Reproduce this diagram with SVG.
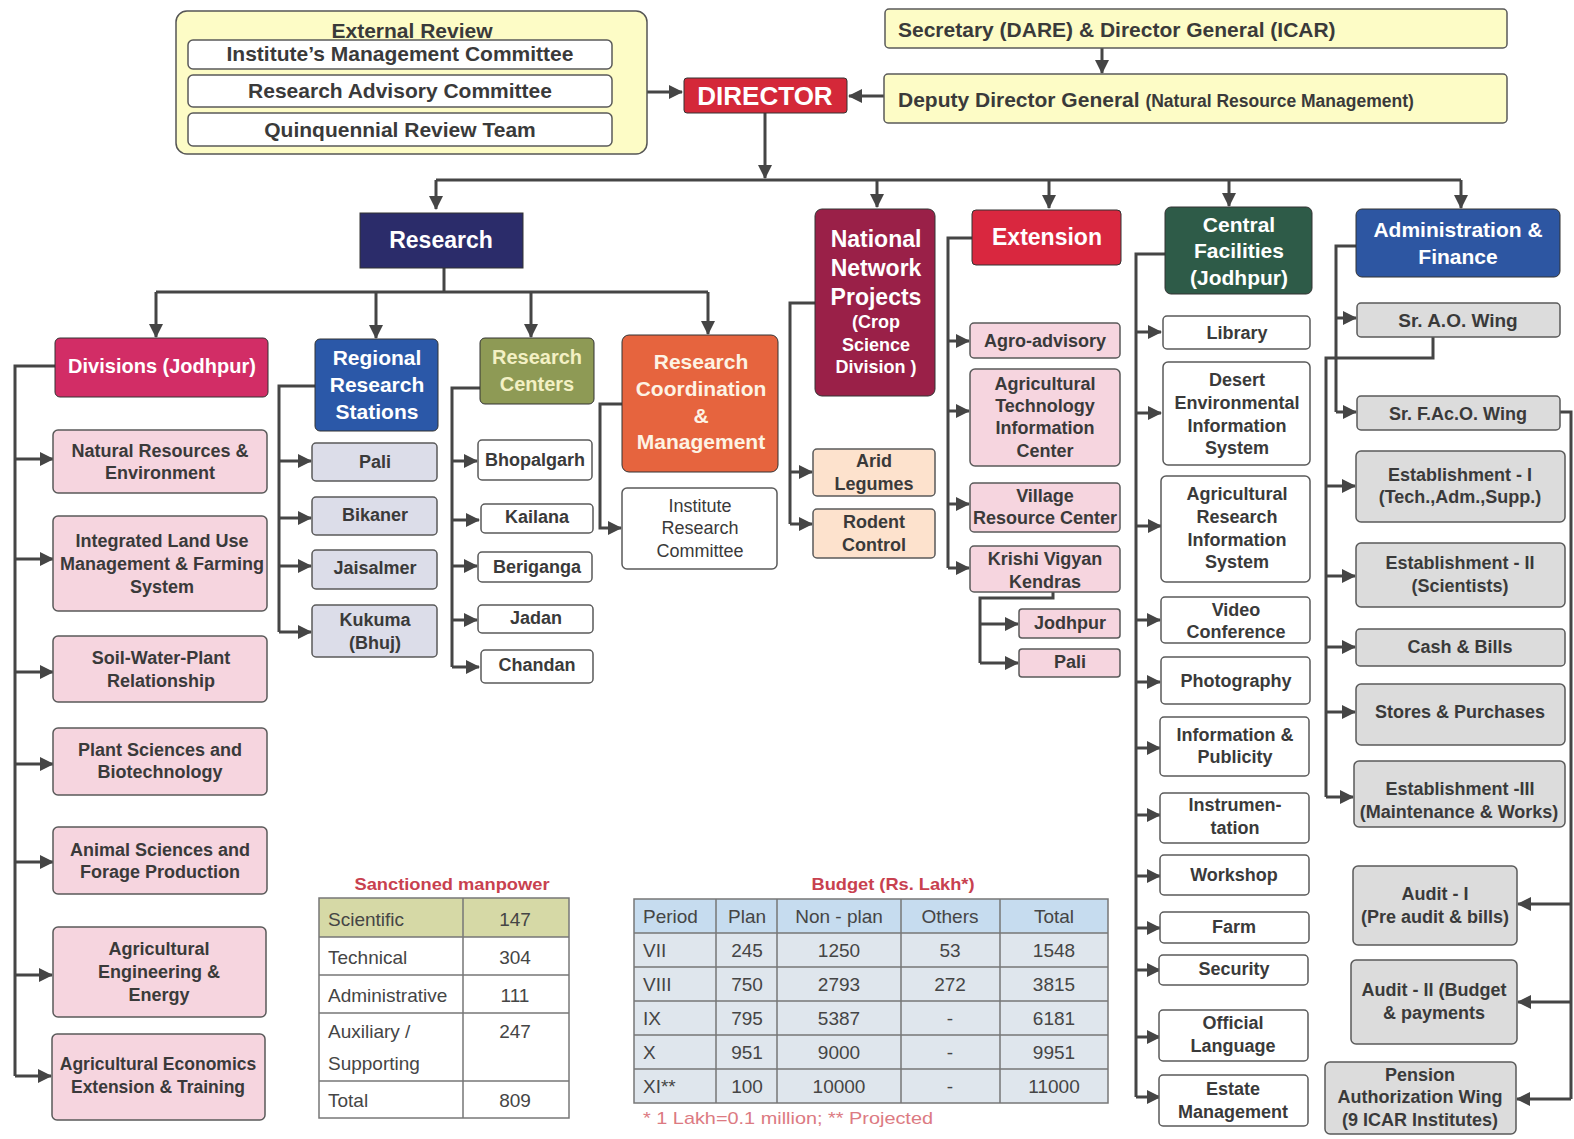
<svg xmlns="http://www.w3.org/2000/svg" width="1574" height="1139" viewBox="0 0 1574 1139">
<defs>
<marker id="ah" markerUnits="userSpaceOnUse" markerWidth="14" markerHeight="14" refX="13" refY="7" orient="auto"><path d="M0,0 L14,7 L0,14 z" fill="#454545"/></marker>
<style>
.c{fill:none;stroke:#454545;stroke-width:3}
.a{marker-end:url(#ah)}
.b{stroke:#5a5a5a;stroke-width:1.5}
.h{stroke:#333;stroke-width:1}
.pink{fill:#f6d5df}
.lav{fill:#dcdde9}
.wh{fill:#fff}
.peach{fill:#fde2cd}
.grey{fill:#dcdcdc}
.yel{fill:#fdfcc6}
text{font-family:"Liberation Sans",Arial,sans-serif;font-weight:bold;text-anchor:middle;fill:#3a3a3a;font-size:18px}
.w{fill:#fff;font-size:21px}
.big{font-size:23px}
.top{font-size:21px}
.l{text-anchor:start}
.n{font-weight:normal}
.tb{font-weight:normal;font-size:19px;fill:#454545}
.red{fill:#c8414f;font-size:17px}
</style>
</defs>
<rect width="1574" height="1139" fill="#fff"/>

<g id="connectors">
<path class="c" d="M612,53 H631 V130 H612"/>
<path class="c a" d="M612,92 H682"/>
<path class="c a" d="M1102,48 V73"/>
<path class="c a" d="M884,96 H849"/>
<path class="c a" d="M765,113 V178"/>
<path class="c" d="M436,180 H1461"/>
<path class="c a" d="M436,180 V209"/>
<path class="c a" d="M877,180 V207"/>
<path class="c a" d="M1049,180 V208"/>
<path class="c a" d="M1229,180 V206"/>
<path class="c a" d="M1461,180 V208"/>
<path class="c" d="M444,268 V292"/>
<path class="c" d="M156,292 H708"/>
<path class="c a" d="M156,292 V337"/>
<path class="c a" d="M376,292 V338"/>
<path class="c a" d="M531,292 V337"/>
<path class="c a" d="M708,292 V334"/>
<path class="c" d="M55,366 H15 V1076"/>
<path class="c a" d="M15,459 H53"/>
<path class="c a" d="M15,559 H53"/>
<path class="c a" d="M15,672 H53"/>
<path class="c a" d="M15,764 H53"/>
<path class="c a" d="M15,862 H53"/>
<path class="c a" d="M15,975 H52"/>
<path class="c a" d="M15,1076 H51"/>
<path class="c" d="M315,386 H279 V632"/>
<path class="c a" d="M279,461 H311"/>
<path class="c a" d="M279,518 H311"/>
<path class="c a" d="M279,566 H311"/>
<path class="c a" d="M279,632 H311"/>
<path class="c" d="M480,388 H452 V667"/>
<path class="c a" d="M452,461 H477"/>
<path class="c a" d="M452,520 H479"/>
<path class="c a" d="M452,566 H477"/>
<path class="c a" d="M452,620 H477"/>
<path class="c a" d="M452,667 H479"/>
<path class="c a" d="M622,404 H600 V528 H621"/>
<path class="c" d="M815,303 H790 V524"/>
<path class="c a" d="M790,472 H812"/>
<path class="c a" d="M790,524 H812"/>
<path class="c" d="M972,238 H948 V568"/>
<path class="c a" d="M948,341 H969"/>
<path class="c a" d="M948,411 H969"/>
<path class="c a" d="M948,504 H969"/>
<path class="c a" d="M948,568 H969"/>
<path class="c" d="M1053,592 V598 H980 V663"/>
<path class="c a" d="M980,624 H1018"/>
<path class="c a" d="M980,663 H1018"/>
<path class="c" d="M1165,254 H1136 V1097"/>
<path class="c a" d="M1136,332 H1161"/>
<path class="c a" d="M1136,413 H1161"/>
<path class="c a" d="M1136,526 H1161"/>
<path class="c a" d="M1136,620 H1160"/>
<path class="c a" d="M1136,682 H1160"/>
<path class="c a" d="M1136,748 H1160"/>
<path class="c a" d="M1136,815 H1160"/>
<path class="c a" d="M1136,876 H1160"/>
<path class="c a" d="M1136,928 H1160"/>
<path class="c a" d="M1136,970 H1160"/>
<path class="c a" d="M1136,1037 H1160"/>
<path class="c a" d="M1136,1097 H1160"/>
<path class="c" d="M1356,246 H1336 V412"/>
<path class="c a" d="M1336,318 H1356"/>
<path class="c a" d="M1336,412 H1356"/>
<path class="c" d="M1433,337 V358 H1326 V797"/>
<path class="c a" d="M1326,486 H1355"/>
<path class="c a" d="M1326,576 H1355"/>
<path class="c a" d="M1326,647 H1355"/>
<path class="c a" d="M1326,712 H1355"/>
<path class="c a" d="M1326,797 H1353"/>
<path class="c" d="M1560,412 H1571 V1099"/>
<path class="c a" d="M1571,904 H1518"/>
<path class="c a" d="M1571,1002 H1518"/>
<path class="c a" d="M1571,1099 H1517"/>
</g>

<g id="external-review">
<rect x="176" y="11" width="471" height="143" rx="11" class="yel" stroke="#555" stroke-width="1.5"/>
<text x="412" y="38" class="top">External Review</text>
</g>
<g id="imc"><rect x="188" y="40" width="424" height="29" rx="5" class="wh b"/><text x="400" y="61" class="top">Institute’s Management Committee</text></g>
<g id="rac"><rect x="188" y="75" width="424" height="32" rx="5" class="wh b"/><text x="400" y="98" class="top">Research Advisory Committee</text></g>
<g id="qrt"><rect x="188" y="113" width="424" height="33" rx="5" class="wh b"/><text x="400" y="137" class="top">Quinquennial Review Team</text></g>

<g id="director"><rect x="684" y="78" width="163" height="35" rx="3" fill="#d42839" class="h"/><text x="765" y="105" class="w" style="font-size:26px">DIRECTOR</text></g>
<g id="secretary"><rect x="885" y="9" width="622" height="39" rx="4" class="yel b"/><text x="898" y="37" class="top l">Secretary (DARE) &amp; Director General (ICAR)</text></g>
<g id="ddg"><rect x="884" y="74" width="623" height="49" rx="4" class="yel b"/><text x="898" y="107" class="top l">Deputy Director General <tspan style="font-size:17.5px">(Natural Resource Management)</tspan></text></g>

<g id="research"><rect x="360" y="213" width="163" height="55" fill="#2b2c6a" class="h"/><text x="441" y="248" class="w big">Research</text></g>

<g id="divisions"><rect x="55" y="338" width="213" height="59" rx="5" fill="#d22d66" class="h"/><text x="162" y="373" class="w" style="font-size:20px">Divisions (Jodhpur)</text></g>
<g id="div-nre"><rect x="53" y="430" width="214" height="63" rx="5" class="pink b"/><text x="160" y="457">Natural Resources &amp;</text><text x="160" y="479">Environment</text></g>
<g id="div-ilum"><rect x="53" y="516" width="214" height="95" rx="5" class="pink b"/><text x="162" y="547">Integrated Land Use</text><text x="162" y="570">Management &amp; Farming</text><text x="162" y="593">System</text></g>
<g id="div-swpr"><rect x="53" y="636" width="214" height="66" rx="5" class="pink b"/><text x="161" y="664">Soil-Water-Plant</text><text x="161" y="687">Relationship</text></g>
<g id="div-psb"><rect x="53" y="728" width="214" height="67" rx="5" class="pink b"/><text x="160" y="756">Plant Sciences and</text><text x="160" y="778">Biotechnology</text></g>
<g id="div-asfp"><rect x="53" y="827" width="214" height="67" rx="5" class="pink b"/><text x="160" y="856">Animal Sciences and</text><text x="160" y="878">Forage Production</text></g>
<g id="div-aee"><rect x="53" y="927" width="213" height="90" rx="5" class="pink b"/><text x="159" y="955">Agricultural</text><text x="159" y="978">Engineering &amp;</text><text x="159" y="1001">Energy</text></g>
<g id="div-aeet"><rect x="52" y="1034" width="213" height="86" rx="5" class="pink b"/><text x="158" y="1070" style="font-size:17.5px">Agricultural Economics</text><text x="158" y="1093" style="font-size:17.5px">Extension &amp; Training</text></g>

<g id="rrs"><rect x="315" y="339" width="123" height="92" rx="5" fill="#2b58a8" class="h"/><text x="377" y="365" class="w">Regional</text><text x="377" y="392" class="w">Research</text><text x="377" y="419" class="w">Stations</text></g>
<g id="rrs-pali"><rect x="312" y="443" width="125" height="38" rx="4" class="lav b"/><text x="375" y="468">Pali</text></g>
<g id="rrs-bikaner"><rect x="312" y="497" width="125" height="38" rx="4" class="lav b"/><text x="375" y="521">Bikaner</text></g>
<g id="rrs-jaisalmer"><rect x="312" y="550" width="125" height="39" rx="4" class="lav b"/><text x="375" y="574">Jaisalmer</text></g>
<g id="rrs-kukuma"><rect x="312" y="605" width="125" height="52" rx="4" class="lav b"/><text x="375" y="626">Kukuma</text><text x="375" y="649">(Bhuj)</text></g>

<g id="rc"><rect x="480" y="338" width="114" height="66" rx="5" fill="#8e9a55" class="h"/><text x="537" y="364" class="w" style="fill:#f3f0c4;font-size:20px">Research</text><text x="537" y="391" class="w" style="fill:#f3f0c4;font-size:20px">Centers</text></g>
<g id="rc-bhopalgarh"><rect x="478" y="440" width="114" height="40" rx="4" class="wh b"/><text x="535" y="466">Bhopalgarh</text></g>
<g id="rc-kailana"><rect x="481" y="504" width="112" height="29" rx="4" class="wh b"/><text x="537" y="523">Kailana</text></g>
<g id="rc-beriganga"><rect x="478" y="552" width="114" height="30" rx="4" class="wh b"/><text x="537" y="573">Beriganga</text></g>
<g id="rc-jadan"><rect x="478" y="605" width="115" height="28" rx="4" class="wh b"/><text x="536" y="624">Jadan</text></g>
<g id="rc-chandan"><rect x="481" y="650" width="112" height="33" rx="4" class="wh b"/><text x="537" y="671">Chandan</text></g>

<g id="rcm"><rect x="622" y="335" width="156" height="137" rx="7" fill="#e6643e" class="h"/><text x="701" y="369" class="w" style="fill:#fdf3e4">Research</text><text x="701" y="396" class="w" style="fill:#fdf3e4">Coordination</text><text x="701" y="423" class="w" style="fill:#fdf3e4">&amp;</text><text x="701" y="449" class="w" style="fill:#fdf3e4">Management</text></g>
<g id="irc"><rect x="622" y="488" width="155" height="81" rx="5" class="wh b"/><text x="700" y="512" class="n">Institute</text><text x="700" y="534" class="n">Research</text><text x="700" y="557" class="n">Committee</text></g>

<g id="nnp"><rect x="815" y="209" width="120" height="187" rx="7" fill="#9a2048" class="h"/><text x="876" y="247" class="w big">National</text><text x="876" y="276" class="w big">Network</text><text x="876" y="305" class="w big">Projects</text><text x="876" y="328" class="w" style="font-size:18px">(Crop</text><text x="876" y="351" class="w" style="font-size:18px">Science</text><text x="876" y="373" class="w" style="font-size:18px">Division )</text></g>
<g id="arid"><rect x="813" y="449" width="122" height="47" rx="4" class="peach b"/><text x="874" y="467">Arid</text><text x="874" y="490">Legumes</text></g>
<g id="rodent"><rect x="813" y="509" width="122" height="49" rx="4" class="peach b"/><text x="874" y="528">Rodent</text><text x="874" y="551">Control</text></g>

<g id="extension"><rect x="972" y="210" width="149" height="55" rx="4" fill="#d9273f" class="h"/><text x="1047" y="245" class="w big">Extension</text></g>
<g id="agro"><rect x="970" y="323" width="150" height="35" rx="4" class="pink b"/><text x="1045" y="347">Agro-advisory</text></g>
<g id="atic"><rect x="970" y="369" width="150" height="97" rx="5" class="pink b"/><text x="1045" y="390">Agricultural</text><text x="1045" y="412">Technology</text><text x="1045" y="434">Information</text><text x="1045" y="457">Center</text></g>
<g id="vrc"><rect x="970" y="483" width="150" height="49" rx="4" class="pink b"/><text x="1045" y="502">Village</text><text x="1045" y="524">Resource Center</text></g>
<g id="kvk"><rect x="970" y="546" width="150" height="46" rx="4" class="pink b"/><text x="1045" y="565">Krishi Vigyan</text><text x="1045" y="588">Kendras</text></g>
<g id="kvk-jodhpur"><rect x="1019" y="609" width="101" height="29" rx="3" class="pink b"/><text x="1070" y="629">Jodhpur</text></g>
<g id="kvk-pali"><rect x="1019" y="649" width="101" height="28" rx="3" class="pink b"/><text x="1070" y="668">Pali</text></g>

<g id="central"><rect x="1165" y="207" width="147" height="87" rx="6" fill="#2e5b48" class="h"/><text x="1239" y="232" class="w">Central</text><text x="1239" y="258" class="w">Facilities</text><text x="1239" y="285" class="w">(Jodhpur)</text></g>
<g id="cf-library"><rect x="1163" y="316" width="147" height="33" rx="4" class="wh b"/><text x="1237" y="339">Library</text></g>
<g id="cf-deis"><rect x="1163" y="362" width="147" height="103" rx="5" class="wh b"/><text x="1237" y="386">Desert</text><text x="1237" y="409">Environmental</text><text x="1237" y="432">Information</text><text x="1237" y="454">System</text></g>
<g id="cf-aris"><rect x="1161" y="476" width="149" height="106" rx="5" class="wh b"/><text x="1237" y="500">Agricultural</text><text x="1237" y="523">Research</text><text x="1237" y="546">Information</text><text x="1237" y="568">System</text></g>
<g id="cf-video"><rect x="1161" y="597" width="149" height="46" rx="4" class="wh b"/><text x="1236" y="616">Video</text><text x="1236" y="638">Conference</text></g>
<g id="cf-photo"><rect x="1161" y="657" width="149" height="47" rx="4" class="wh b"/><text x="1236" y="687">Photography</text></g>
<g id="cf-info"><rect x="1160" y="717" width="149" height="59" rx="4" class="wh b"/><text x="1235" y="741">Information &amp;</text><text x="1235" y="763">Publicity</text></g>
<g id="cf-instr"><rect x="1160" y="793" width="149" height="50" rx="4" class="wh b"/><text x="1235" y="811">Instrumen-</text><text x="1235" y="834">tation</text></g>
<g id="cf-workshop"><rect x="1160" y="855" width="149" height="40" rx="4" class="wh b"/><text x="1234" y="881">Workshop</text></g>
<g id="cf-farm"><rect x="1160" y="912" width="149" height="31" rx="4" class="wh b"/><text x="1234" y="933">Farm</text></g>
<g id="cf-security"><rect x="1159" y="955" width="149" height="30" rx="4" class="wh b"/><text x="1234" y="975">Security</text></g>
<g id="cf-official"><rect x="1159" y="1010" width="149" height="51" rx="4" class="wh b"/><text x="1233" y="1029">Official</text><text x="1233" y="1052">Language</text></g>
<g id="cf-estate"><rect x="1159" y="1075" width="149" height="51" rx="4" class="wh b"/><text x="1233" y="1095">Estate</text><text x="1233" y="1118">Management</text></g>

<g id="admin"><rect x="1356" y="209" width="204" height="68" rx="6" fill="#2d56a2" class="h"/><text x="1458" y="237" class="w">Administration &amp;</text><text x="1458" y="264" class="w">Finance</text></g>
<g id="sr-ao"><rect x="1357" y="303" width="203" height="34" rx="4" class="grey b"/><text x="1458" y="327" style="font-size:19px">Sr. A.O. Wing</text></g>
<g id="sr-faco"><rect x="1357" y="396" width="203" height="34" rx="4" class="grey b"/><text x="1458" y="420">Sr. F.Ac.O. Wing</text></g>
<g id="est-1"><rect x="1356" y="451" width="209" height="71" rx="5" class="grey b"/><text x="1460" y="481">Establishment - I</text><text x="1460" y="503">(Tech.,Adm.,Supp.)</text></g>
<g id="est-2"><rect x="1356" y="543" width="209" height="64" rx="5" class="grey b"/><text x="1460" y="569">Establishment - II</text><text x="1460" y="592">(Scientists)</text></g>
<g id="cash"><rect x="1356" y="629" width="209" height="37" rx="4" class="grey b"/><text x="1460" y="653">Cash &amp; Bills</text></g>
<g id="stores"><rect x="1356" y="684" width="209" height="61" rx="5" class="grey b"/><text x="1460" y="718">Stores &amp; Purchases</text></g>
<g id="est-3"><rect x="1354" y="761" width="211" height="66" rx="5" class="grey b"/><text x="1460" y="795">Establishment -III</text><text x="1459" y="818">(Maintenance &amp; Works)</text></g>
<g id="audit-1"><rect x="1353" y="866" width="164" height="79" rx="5" class="grey b"/><text x="1435" y="900">Audit - I</text><text x="1435" y="923">(Pre audit &amp; bills)</text></g>
<g id="audit-2"><rect x="1351" y="960" width="166" height="84" rx="5" class="grey b"/><text x="1434" y="996">Audit - II (Budget</text><text x="1434" y="1019">&amp; payments</text></g>
<g id="pension"><rect x="1325" y="1062" width="191" height="72" rx="5" class="grey b"/><text x="1420" y="1081">Pension</text><text x="1420" y="1103">Authorization Wing</text><text x="1420" y="1126">(9 ICAR Institutes)</text></g>

<g id="manpower-table">
<text x="452" y="890" class="red" textLength="195" lengthAdjust="spacingAndGlyphs">Sanctioned manpower</text>
<rect x="319" y="898" width="250" height="39" fill="#d6d9a6"/>
<rect x="319" y="937" width="250" height="181" fill="#fff"/>
<g stroke="#777" stroke-width="1.5" fill="none">
<rect x="319" y="898" width="250" height="220"/>
<path d="M463,898 V1118 M319,937 H569 M319,975 H569 M319,1013 H569 M319,1081 H569"/>
</g>
<text x="328" y="926" class="tb l">Scientific</text><text x="515" y="926" class="tb">147</text>
<text x="328" y="964" class="tb l">Technical</text><text x="515" y="964" class="tb">304</text>
<text x="328" y="1002" class="tb l">Administrative</text><text x="515" y="1002" class="tb">111</text>
<text x="328" y="1038" class="tb l">Auxiliary /</text><text x="515" y="1038" class="tb">247</text>
<text x="328" y="1070" class="tb l">Supporting</text>
<text x="328" y="1107" class="tb l">Total</text><text x="515" y="1107" class="tb">809</text>
</g>

<g id="budget-table">
<text x="893" y="890" class="red" textLength="163" lengthAdjust="spacingAndGlyphs">Budget (Rs. Lakh*)</text>
<rect x="634" y="899" width="474" height="34" fill="#c6dcef"/>
<rect x="634" y="933" width="474" height="170" fill="#dfe6ed"/>
<g stroke="#777" stroke-width="1.5" fill="none">
<rect x="634" y="899" width="474" height="204"/>
<path d="M716,899 V1103 M777,899 V1103 M901,899 V1103 M1000,899 V1103 M634,933 H1108 M634,967 H1108 M634,1001 H1108 M634,1035 H1108 M634,1069 H1108"/>
</g>
<text x="643" y="923" class="tb l">Period</text><text x="747" y="923" class="tb">Plan</text><text x="839" y="923" class="tb">Non - plan</text><text x="950" y="923" class="tb">Others</text><text x="1054" y="923" class="tb">Total</text>
<text x="643" y="957" class="tb l">VII</text><text x="747" y="957" class="tb">245</text><text x="839" y="957" class="tb">1250</text><text x="950" y="957" class="tb">53</text><text x="1054" y="957" class="tb">1548</text>
<text x="643" y="991" class="tb l">VIII</text><text x="747" y="991" class="tb">750</text><text x="839" y="991" class="tb">2793</text><text x="950" y="991" class="tb">272</text><text x="1054" y="991" class="tb">3815</text>
<text x="643" y="1025" class="tb l">IX</text><text x="747" y="1025" class="tb">795</text><text x="839" y="1025" class="tb">5387</text><text x="950" y="1025" class="tb">-</text><text x="1054" y="1025" class="tb">6181</text>
<text x="643" y="1059" class="tb l">X</text><text x="747" y="1059" class="tb">951</text><text x="839" y="1059" class="tb">9000</text><text x="950" y="1059" class="tb">-</text><text x="1054" y="1059" class="tb">9951</text>
<text x="643" y="1093" class="tb l">XI**</text><text x="747" y="1093" class="tb">100</text><text x="839" y="1093" class="tb">10000</text><text x="950" y="1093" class="tb">-</text><text x="1054" y="1093" class="tb">11000</text>
<text x="643" y="1124" class="tb l" style="fill:#dc7a82;font-size:17px" textLength="290" lengthAdjust="spacingAndGlyphs">* 1 Lakh=0.1 million; ** Projected</text>
</g>
</svg>
